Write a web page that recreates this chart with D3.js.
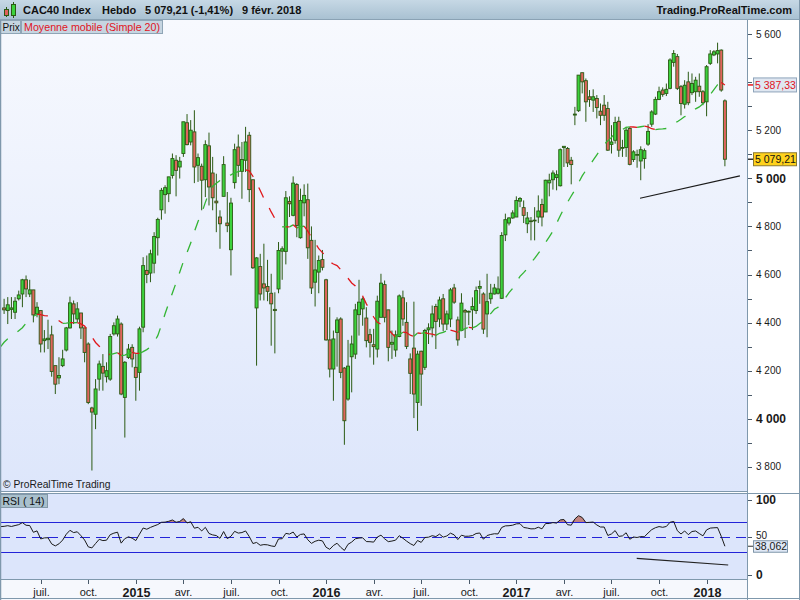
<!DOCTYPE html>
<html><head><meta charset="utf-8">
<script src="https://cdn.jsdelivr.net/npm/d3@7"></script>
<style>
html,body{margin:0;padding:0;background:#fff;}
svg{display:block;font-family:"Liberation Sans",Arial,sans-serif;}
</style></head><body>
<svg id="c" width="800" height="600"></svg>
<script>
// ---------------- DATA (weekly CAC40) ----------------
const firstWeek = new Date(2014, 3, 28); // Monday of the first weekly candle
const priorCloses = [4060, 4193, 4277, 4248, 4264, 4327, 4161, 4165, 4230, 4301, 4336, 4408, 4368, 4215, 4313, 4392, 4461, 4366, 4443, 4444];
const opens = [
4461,4450,4455,4443,4499,4519,4578,4519,4536,4436,
4450,4325,4329,4349,4221,4170,4221,4286,4378,4478,
4415,4440,4378,4311,4045,4019,4165,4218,4175,4165,
4353,4353,4394,4089,4255,4297,4214,4193,4381,4617,
4606,4647,4753,4869,4932,4936,5012,5075,5047,5103,
5231,5151,5193,5054,5050,4994,5135,5022,4905,4839,
4925,4814,4703,4982,5130,5029,5075,5179,4994,4461,
4633,4561,4550,4522,4455,4540,4697,4696,4904,4846,
4974,4753,4898,4911,4742,4568,4610,4662,4578,4328,
4207,4359,4415,4211,4082,4258,4269,4433,4457,4419,
4350,4308,4290,4422,4558,4453,4310,4286,4342,4503,
4401,4249,4294,4068,4281,4214,4370,4378,4467,4415,
4499,4394,4415,4544,4411,4367,4450,4444,4453,4450,
4543,4519,4436,4499,4519,4522,4501,4765,4814,4835,
4839,4905,4878,4811,4823,4826,4839,4891,4860,4981,
4994,5003,4969,5128,5124,5075,5263,5281,5439,5406,
5339,5325,5332,5279,5304,5290,5141,5158,5237,5125,
5128,5207,5078,5096,5072,5082,5142,5225,5267,5328,
5367,5353,5374,5482,5506,5381,5308,5401,5356,5360,
5383,5360,5318,5478,5513,5517,5533,5322];
const highs = [
4499,4506,4506,4506,4533,4582,4596,4578,4536,4485,
4450,4369,4412,4387,4221,4256,4287,4382,4508,4492,
4485,4440,4378,4318,4050,4165,4242,4269,4235,4353,
4401,4429,4401,4240,4311,4310,4269,4383,4672,4679,
4703,4776,4836,4960,4971,5006,5103,5096,5089,5235,
5267,5242,5283,5103,5061,5158,5190,5089,5019,4867,
5092,4943,4919,5144,5182,5151,5214,5193,4994,4672,
4686,4728,4661,4603,4526,4735,4717,4947,4925,5008,
4980,4957,4975,4978,4800,4744,4679,4702,4582,4464,
4367,4422,4422,4215,4328,4346,4478,4578,4505,4464,
4374,4374,4512,4603,4575,4453,4367,4367,4517,4533,
4485,4272,4487,4283,4283,4374,4397,4471,4478,4508,
4519,4450,4544,4561,4425,4522,4457,4450,4505,4550,
4575,4526,4603,4561,4561,4592,4776,4853,4839,4867,
4925,4922,4908,4860,4839,4880,4929,4915,4994,5019,
5033,5033,5124,5133,5130,5089,5297,5429,5439,5415,
5367,5370,5346,5311,5346,5318,5221,5256,5256,5160,
5214,5214,5117,5119,5133,5124,5225,5283,5339,5381,
5378,5394,5499,5533,5517,5388,5408,5443,5436,5422,
5436,5367,5471,5533,5533,5564,5536,5328];
const lows = [
4436,4394,4415,4415,4492,4464,4506,4506,4401,4422,
4276,4276,4290,4175,4103,4144,4215,4280,4375,4394,
4401,4332,4235,4061,3785,3957,4117,4117,4151,4158,
4346,4342,4098,3922,4249,4214,4075,4117,4360,4564,
4568,4605,4679,4828,4853,4901,4999,4925,4999,5089,
5137,5137,4980,4985,4867,4922,4887,4867,4776,4707,
4925,4776,4596,4957,5006,4915,5026,4901,4623,4221,
4492,4492,4489,4304,4272,4522,4578,4642,4839,4842,
4755,4749,4842,4665,4519,4467,4522,4617,4325,4172,
4075,4217,4169,3892,4075,4110,4249,4346,4387,4297,
4255,4225,4255,4422,4401,4239,4249,4258,4339,4387,
4290,4103,4003,3950,4054,4203,4311,4339,4290,4381,
4364,4369,4381,4478,4304,4364,4336,4390,4369,4436,
4478,4353,4339,4478,4517,4517,4498,4739,4804,4832,
4839,4880,4814,4772,4742,4742,4814,4800,4860,4925,
4953,4950,4966,5047,5047,4975,5221,5276,5353,5235,
5297,5276,5249,5221,5239,5114,5103,5144,5089,5089,
5089,5054,5068,5044,4992,5040,5135,5214,5263,5325,
5339,5342,5370,5464,5367,5262,5290,5304,5346,5318,
5339,5304,5258,5471,5508,5478,5360,5050];
const closes = [
4453,4474,4461,4489,4515,4578,4540,4536,4432,4464,
4311,4332,4335,4197,4144,4180,4249,4378,4482,4436,
4457,4378,4276,4068,4028,4124,4228,4190,4200,4342,
4387,4415,4103,4235,4290,4249,4172,4374,4637,4600,
4686,4758,4829,4950,4961,5006,5082,5033,5071,5235,
5140,5200,5047,5086,4992,5140,4964,4919,4898,4811,
5057,4803,4897,5119,5054,5078,5151,4953,4628,4669,
4519,4544,4530,4478,4450,4700,4707,4919,4894,4980,
4804,4908,4929,4711,4544,4619,4658,4630,4328,4207,
4332,4411,4193,3992,4219,4311,4453,4485,4498,4325,
4318,4300,4489,4564,4422,4297,4318,4349,4511,4415,
4301,4189,4103,4269,4186,4367,4378,4436,4405,4494,
4394,4436,4536,4485,4328,4481,4444,4447,4467,4533,
4550,4373,4487,4522,4544,4540,4762,4828,4835,4856,
4908,4916,4846,4835,4820,4824,4864,4839,4992,4992,
5022,5015,5119,5133,5064,5057,5267,5429,5401,5318,
5328,5339,5294,5262,5262,5117,5151,5232,5117,5128,
5200,5058,5110,5099,5119,5115,5195,5276,5328,5360,
5349,5370,5492,5519,5374,5311,5387,5314,5394,5408,
5360,5314,5464,5517,5526,5531,5367,5079.21];
const priceTicks = [3800,3900,4000,4100,4200,4300,4400,4500,4600,4700,4800,4900,5000,5100,5200,5300,5400,5500,5600];
const priceLabels = [3800,4000,4200,4400,4600,4800,5000,5200,5400,5600];
const rsiTicks = [0, 50, 100];
const rsiBands = [30, 70];
const tickLabels = ["juil.","oct.","2015","avr.","juil.","oct.","2016","avr.","juil.","oct.","2017","avr.","juil.","oct.","2018"];
const priceTrend = [[173.8, 4917], [201.1, 5010]];
const rsiTrend = [[172.9, 22], [197.9, 13.1]];
const headerParts = ["CAC40 Index", "Hebdo", "5 079,21 (-1,41%)", "9 févr. 2018"];
const maLabel = "5 387,33", closeLabel = "5 079,21", rsiLabel = "38,062";
const maPeriod = 20, rsiPeriod = 14;

// ---------------- LAYOUT ----------------
const svg = d3.select("#c");
const W = 800, H = 600;
const plotR = 747, mainTop = 20, mainBot = 491, rsiTop = 494, rsiBot = 579;
const N = closes.length;
const x = d3.scaleLinear().domain([0, N - 1]).range([4.1, 724.9]);
const y = d3.scaleLinear().domain([3800, 5600]).range([466.9, 34]);
const ry = d3.scaleLinear().domain([0, 100]).range([574.8, 499.8]);
const dates = d3.range(N).map(i => d3.timeMonday.offset(firstWeek, i));

function txt(px, py, str, o = {}) {
  const t = svg.append("text").attr("x", px).attr("y", py).attr("font-size", o.size || 11)
    .attr("font-weight", o.bold ? "bold" : "normal").attr("fill", o.fill || "#1a1a1a").text(str);
  if (o.anchor) t.attr("text-anchor", o.anchor);
  return t;
}

const defs = svg.append("defs");
const g1 = defs.append("linearGradient").attr("id","mainBg").attr("x1",0).attr("x2",0).attr("y1",0).attr("y2",1);
g1.append("stop").attr("offset","0%").attr("stop-color","#f7f9fe");
g1.append("stop").attr("offset","100%").attr("stop-color","#dde6fb");
const g2 = defs.append("linearGradient").attr("id","hdrBg").attr("x1",0).attr("x2",0).attr("y1",0).attr("y2",1);
g2.append("stop").attr("offset","0%").attr("stop-color","#c6d8e5");
g2.append("stop").attr("offset","100%").attr("stop-color","#a9c1d2");
defs.append("clipPath").attr("id","clipMain").append("rect").attr("x",1).attr("y",mainTop).attr("width",plotR-1).attr("height",mainBot-mainTop);
defs.append("clipPath").attr("id","clipRsi").append("rect").attr("x",1).attr("y",rsiTop).attr("width",plotR-1).attr("height",rsiBot-rsiTop);

// backgrounds
svg.append("rect").attr("width",W).attr("height",H).attr("fill","#ffffff");
svg.append("rect").attr("x",0).attr("y",mainTop).attr("width",plotR).attr("height",mainBot-mainTop).attr("fill","url(#mainBg)");
svg.append("rect").attr("x",0).attr("y",rsiTop).attr("width",plotR).attr("height",rsiBot-rsiTop).attr("fill","#dce5fb");
svg.append("rect").attr("x",0).attr("y",rsiBot).attr("width",plotR).attr("height",H-rsiBot).attr("fill","#f6f8fd");

// header
svg.append("rect").attr("x",0).attr("y",0).attr("width",W).attr("height",19).attr("fill","url(#hdrBg)");
svg.append("line").attr("x1",0).attr("x2",W).attr("y1",19.5).attr("y2",19.5).attr("stroke","#8aa2b4");
svg.append("line").attr("x1",6.5).attr("x2",6.5).attr("y1",7).attr("y2",17).attr("stroke","#2b5a14");
svg.append("rect").attr("x",4.5).attr("y",9.5).attr("width",4).attr("height",6).attr("fill","#e0605a").attr("stroke","#2b5a14");
svg.append("line").attr("x1",13.5).attr("x2",13.5).attr("y1",2).attr("y2",18).attr("stroke","#2b5a14");
svg.append("rect").attr("x",11.5).attr("y",4.5).attr("width",4).attr("height",11).attr("fill","#3cd23c").attr("stroke","#2b5a14");
const hx = [23, 102, 145, 242];
headerParts.forEach((t,i)=> txt(hx[i], 14, t, {size:11, bold:true, fill:"#111"}));
txt(792, 14, "Trading.ProRealTime.com", {size:11, bold:true, fill:"#111", anchor:"end"});

// ---------------- indicators from the closes ----------------
const all = priorCloses.concat(closes);
const off = priorCloses.length;
const sma = [];
for (let j = maPeriod - 1; j < all.length; j++) {
  sma.push({i: j - off, v: d3.mean(all.slice(j - maPeriod + 1, j + 1))});
}
const rsi = [];
{
  let ag = 0, al = 0;
  for (let j = 1; j <= rsiPeriod; j++) { const d = all[j]-all[j-1]; if (d>0) ag += d; else al -= d; }
  ag /= rsiPeriod; al /= rsiPeriod;
  rsi.push({i: rsiPeriod - off, v: 100 - 100/(1+ag/al)});
  for (let j = rsiPeriod + 1; j < all.length; j++) {
    const d = all[j]-all[j-1];
    ag = (ag*(rsiPeriod-1) + Math.max(d,0))/rsiPeriod;
    al = (al*(rsiPeriod-1) + Math.max(-d,0))/rsiPeriod;
    rsi.push({i: j - off, v: al === 0 ? 100 : 100 - 100/(1+ag/al)});
  }
}

// ---------------- main panel ----------------
const main = svg.append("g").attr("clip-path","url(#clipMain)");
const cg = main.append("g");
for (let i = 0; i < N; i++) {
  const cx = x(i);
  const o = opens[i], c = closes[i], h = highs[i], l = lows[i];
  const up = c >= o;
  cg.append("line").attr("x1",cx).attr("x2",cx).attr("y1",y(h)).attr("y2",y(l)).attr("stroke","#2b5a14").attr("stroke-width",1);
  const top = y(Math.max(o,c)), bot = y(Math.min(o,c));
  cg.append("rect").attr("x",cx-1.5).attr("y",top).attr("width",3).attr("height",Math.max(bot-top,0.8))
    .attr("fill", up ? "#3cd23c" : "#e0655d").attr("stroke","#2b5a14").attr("stroke-width",0.9);
}
// moving average: one dashed path per rising / falling run
const line = d3.line().x(d=>x(d.i)).y(d=>y(d.v));
let run = [sma[0]], dir = null;
const runs = [];
for (let k = 1; k < sma.length; k++) {
  const dd = sma[k].v >= sma[k-1].v ? "up" : "down";
  if (dir !== null && dd !== dir) { runs.push({dir, pts: run}); run = [sma[k-1]]; }
  dir = dd; run.push(sma[k]);
}
runs.push({dir, pts: run});
runs.forEach(r => main.append("path").attr("d", line(r.pts)).attr("fill","none")
  .attr("stroke", r.dir === "up" ? "#33b533" : "#e0181c").attr("stroke-width",1.3)
  .attr("stroke-dasharray","11,12"));
main.append("path").attr("d", d3.line().x(d=>x(d[0])).y(d=>y(d[1]))(priceTrend)).attr("stroke","#1a1a1a").attr("stroke-width",1.2).attr("fill","none");

// legends
svg.append("rect").attr("x",0.5).attr("y",20.5).attr("width",20).attr("height",13).attr("fill","#c6d5e1").attr("stroke","#8fa5b6");
txt(2.5, 31, "Prix", {size:10, fill:"#111"});
svg.append("rect").attr("x",21.5).attr("y",20.5).attr("width",141).attr("height",13).attr("fill","#c6d5e1").attr("stroke","#8fa5b6");
txt(24, 31, "Moyenne mobile (Simple 20)", {size:10.7, fill:"#e0141e"});
txt(3, 488, "© ProRealTime Trading", {size:10.3});

// right price axis
const ax = svg.append("g");
const maLast = sma[sma.length-1].v;
const cLast = closes[N-1];
priceTicks.forEach(v => ax.append("line").attr("x1",plotR).attr("x2",plotR+5).attr("y1",Math.round(y(v))+0.5).attr("y2",Math.round(y(v))+0.5).attr("stroke","#4a5a6a"));
priceLabels.forEach(v => {
  // labels hidden behind the value boxes are not drawn
  if (Math.abs(y(v) - y(maLast)) < 10 || Math.abs(y(v) - y(cLast)) < 10) return;
  const bold = v % 1000 === 0;
  txt(756, y(v) + (bold ? 4.5 : 3.5), d3.format(",")(v).replace(",", " "), {size: bold ? 12 : 10, bold});
});
ax.append("line").attr("x1",plotR).attr("x2",plotR+6).attr("y1",y(maLast)).attr("y2",y(maLast)).attr("stroke","#e0181c").attr("stroke-width",1.5);
svg.append("rect").attr("x",753.5).attr("y",y(maLast)-7).attr("width",43).attr("height",14).attr("fill","#dfe7f1").attr("stroke","#8ea4ba");
txt(755, y(maLast)+4, maLabel, {size:10.5, fill:"#e0141e"});
ax.append("line").attr("x1",plotR).attr("x2",plotR+6).attr("y1",y(cLast)).attr("y2",y(cLast)).attr("stroke","#333").attr("stroke-width",1.5);
svg.append("rect").attr("x",753.5).attr("y",y(cLast)-6.5).attr("width",43).attr("height",13).attr("fill","#ffd21c").attr("stroke","#8c7a30");
txt(755, y(cLast)+4, closeLabel, {size:10.5, fill:"#111"});

// ---------------- RSI panel ----------------
const rp = svg.append("g").attr("clip-path","url(#clipRsi)");
rp.append("path").datum(rsi).attr("fill","#c08481")
  .attr("d", d3.area().x(d=>x(d.i)).y0(ry(70)).y1(d=>ry(Math.max(d.v,70))));
rp.append("path").datum(rsi).attr("fill","#80c080")
  .attr("d", d3.area().x(d=>x(d.i)).y0(ry(30)).y1(d=>ry(Math.min(d.v,30))));
rsiBands.forEach(v => rp.append("line").attr("x1",0).attr("x2",plotR).attr("y1",Math.round(ry(v))+0.5).attr("y2",Math.round(ry(v))+0.5).attr("stroke","#2323d8").attr("stroke-width",1));
rp.append("line").attr("x1",0).attr("x2",plotR).attr("y1",Math.round(ry(50))+0.5).attr("y2",Math.round(ry(50))+0.5).attr("stroke","#2323d8").attr("stroke-dasharray","10,6");
rp.append("path").datum(rsi).attr("fill","none").attr("stroke","#1a1a1a").attr("stroke-width",1)
  .attr("d", d3.line().x(d=>x(d.i)).y(d=>ry(d.v)));
rp.append("path").attr("d", d3.line().x(d=>x(d[0])).y(d=>ry(d[1]))(rsiTrend)).attr("stroke","#222").attr("stroke-width",1.2).attr("fill","none");
svg.append("rect").attr("x",0.5).attr("y",494.5).attr("width",47).attr("height",13).attr("fill","#a9c0cd").attr("stroke","#8398a8");
txt(2.5, 505, "RSI ( 14)", {size:10.5, fill:"#111"});
rsiTicks.forEach(v => {
  const bold = v !== 50;
  ax.append("line").attr("x1",plotR).attr("x2",plotR+5).attr("y1",Math.round(ry(v))+0.5).attr("y2",Math.round(ry(v))+0.5).attr("stroke","#4a5a6a");
  txt(756, v === 50 ? ry(v) + 1.5 : ry(v) + 4.5, String(v), {size: bold ? 12 : 10, bold});
});
const rLast = rsi[rsi.length-1].v;
ax.append("line").attr("x1",plotR).attr("x2",plotR+6).attr("y1",ry(rLast)).attr("y2",ry(rLast)).attr("stroke","#333");
svg.append("rect").attr("x",753.5).attr("y",ry(rLast)-5.5).attr("width",34).attr("height",11.5).attr("fill","#dfe8f6").attr("stroke","#7f95a8");
txt(755, ry(rLast)+4, rsiLabel, {size:10.5});

// ---------------- time axis ----------------
const tickIdx = [];
for (let i = 1; i < N; i++) {
  const m = dates[i].getMonth();
  if (m !== dates[i-1].getMonth() && m % 3 === 0) tickIdx.push(i);
}
tickIdx.forEach((i, k) => {
  const tx = Math.round(x(i)) + 0.5;
  const isYear = dates[i].getMonth() === 0;
  svg.append("line").attr("x1",tx).attr("x2",tx).attr("y1",rsiBot).attr("y2",rsiBot+5).attr("stroke","#4a5a6a");
  txt(tx, isYear ? 597 : 596, tickLabels[k], {size: isYear ? 12.5 : 11, bold: isYear, anchor: "middle"});
});

// ---------------- frames ----------------
const fr = "#7f98ac";
svg.append("line").attr("x1",0.5).attr("x2",0.5).attr("y1",20).attr("y2",H).attr("stroke",fr).attr("stroke-width",1.5);
svg.append("line").attr("x1",plotR+0.5).attr("x2",plotR+0.5).attr("y1",20).attr("y2",H).attr("stroke",fr);
svg.append("line").attr("x1",W-0.5).attr("x2",W-0.5).attr("y1",0).attr("y2",H).attr("stroke",fr);
svg.append("line").attr("x1",0).attr("x2",plotR).attr("y1",mainBot+0.5).attr("y2",mainBot+0.5).attr("stroke",fr);
svg.append("line").attr("x1",0).attr("x2",W).attr("y1",mainBot+2.5).attr("y2",mainBot+2.5).attr("stroke",fr);
svg.append("line").attr("x1",0).attr("x2",plotR).attr("y1",rsiBot+0.5).attr("y2",rsiBot+0.5).attr("stroke",fr);
svg.append("line").attr("x1",0).attr("x2",W).attr("y1",H-1.5).attr("y2",H-1.5).attr("stroke",fr);
</script>
</body></html>
